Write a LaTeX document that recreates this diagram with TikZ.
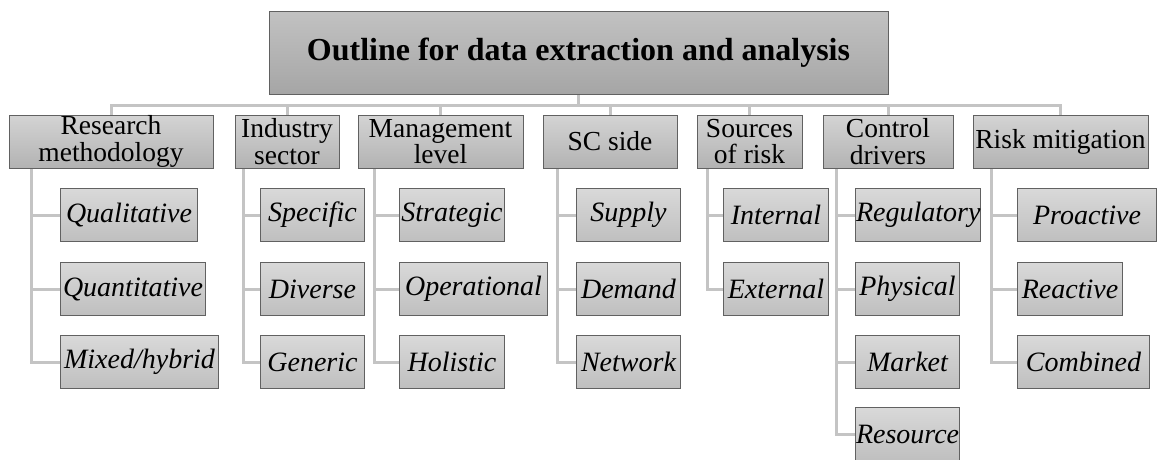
\documentclass[tikz,border=0pt]{standalone}
\usepackage{fontspec}
\setmainfont{Liberation Serif}
\usetikzlibrary{calc,backgrounds}
\tikzset{
  box/.style={draw=black!62,line width=1pt,top color=black!17,bottom color=black!30,inner xsep=0.5pt,inner ysep=0pt,minimum height=53pt,align=center,font=\fontsize{27.5}{26.5}\selectfont},
  titlebox/.style={box,top color=black!24,bottom color=black!35,minimum width=619pt,minimum height=83pt,font=\fontsize{32}{36}\selectfont\bfseries},
  item/.style={box,top color=black!15,bottom color=black!25,anchor=west,font=\fontsize{28}{30}\selectfont\itshape},
  link/.style={draw=black!23,line width=3pt}
}
\begin{document}
\begin{tikzpicture}[x=1pt,y=-1pt]
\useasboundingbox (0,0) rectangle (1157,459);
\node[titlebox] (title) at (578.5,52.5) {Outline for data extraction and analysis};
\coordinate (bar) at (578.5,105);

\node[box,minimum width=204pt] (cm) at (111,141.5) {Research\\methodology};
\node[box,minimum width=104pt] (is) at (287,141.5) {Industry\\sector};
\node[box,minimum width=165pt] (ml) at (440.5,141.5) {Management\\level};
\node[box,minimum width=134pt] (sc) at (610,141.5) {SC side};
\node[box,minimum width=105pt] (sr) at (749.5,141.5) {Sources\\of risk};
\node[box,minimum width=130pt] (cd) at (888,141.5) {Control\\drivers};
\node[box,minimum width=175pt] (rm) at (1060.5,141.5) {Risk mitigation};

\node[item,minimum width=137pt] (cm1) at (60,215) {Qualitative};
\node[item,minimum width=145pt] (cm2) at (60,289) {Quantitative};
\node[item,minimum width=158pt] (cm3) at (60,362) {Mixed/hybrid};

\node[item,minimum width=104pt] (is1) at (260,215) {Specific};
\node[item,minimum width=104pt] (is2) at (260,289) {Diverse};
\node[item,minimum width=104pt] (is3) at (260,362) {Generic};

\node[item,minimum width=105pt] (ml1) at (399,215) {Strategic};
\node[item,minimum width=148pt] (ml2) at (399,289) {Operational};
\node[item,minimum width=105pt] (ml3) at (399,362) {Holistic};

\node[item,minimum width=104pt] (sc1) at (576,215) {Supply};
\node[item,minimum width=104pt] (sc2) at (576,289) {Demand};
\node[item,minimum width=104pt] (sc3) at (576,362) {Network};

\node[item,minimum width=105pt] (sr1) at (723,215) {Internal};
\node[item,minimum width=105pt] (sr2) at (723,289) {External};

\node[item,minimum width=123pt] (cd1) at (855,215) {Regulatory};
\node[item,minimum width=104pt] (cd2) at (855,289) {Physical};
\node[item,minimum width=104pt] (cd3) at (855,362) {Market};
\node[item,minimum width=104pt] (cd4) at (855,434) {Resource};

\node[item,minimum width=139pt] (rm1) at (1017,215) {Proactive};
\node[item,minimum width=105pt] (rm2) at (1017,289) {Reactive};
\node[item,minimum width=132pt] (rm3) at (1017,362) {Combined};

\begin{scope}[on background layer]
\draw[link] (title.south) -- (bar);
\foreach \c in {cm,is,ml,sc,sr,cd,rm}
  \draw[link] (bar) -| (\c.north);
\draw[link] ([xshift=23pt]cm.south west) |- (cm1.west);
\draw[link] ([xshift=23pt]cm.south west) |- (cm2.west);
\draw[link] ([xshift=23pt]cm.south west) |- (cm3.west);
\draw[link] ([xshift=9pt]is.south west) |- (is1.west);
\draw[link] ([xshift=9pt]is.south west) |- (is2.west);
\draw[link] ([xshift=9pt]is.south west) |- (is3.west);
\draw[link] ([xshift=17pt]ml.south west) |- (ml1.west);
\draw[link] ([xshift=17pt]ml.south west) |- (ml2.west);
\draw[link] ([xshift=17pt]ml.south west) |- (ml3.west);
\draw[link] ([xshift=15pt]sc.south west) |- (sc1.west);
\draw[link] ([xshift=15pt]sc.south west) |- (sc2.west);
\draw[link] ([xshift=15pt]sc.south west) |- (sc3.west);
\draw[link] ([xshift=11pt]sr.south west) |- (sr1.west);
\draw[link] ([xshift=11pt]sr.south west) |- (sr2.west);
\draw[link] ([xshift=14pt]cd.south west) |- (cd1.west);
\draw[link] ([xshift=14pt]cd.south west) |- (cd2.west);
\draw[link] ([xshift=14pt]cd.south west) |- (cd3.west);
\draw[link] ([xshift=14pt]cd.south west) |- (cd4.west);
\draw[link] ([xshift=19pt]rm.south west) |- (rm1.west);
\draw[link] ([xshift=19pt]rm.south west) |- (rm2.west);
\draw[link] ([xshift=19pt]rm.south west) |- (rm3.west);
\end{scope}
\end{tikzpicture}
\end{document}
